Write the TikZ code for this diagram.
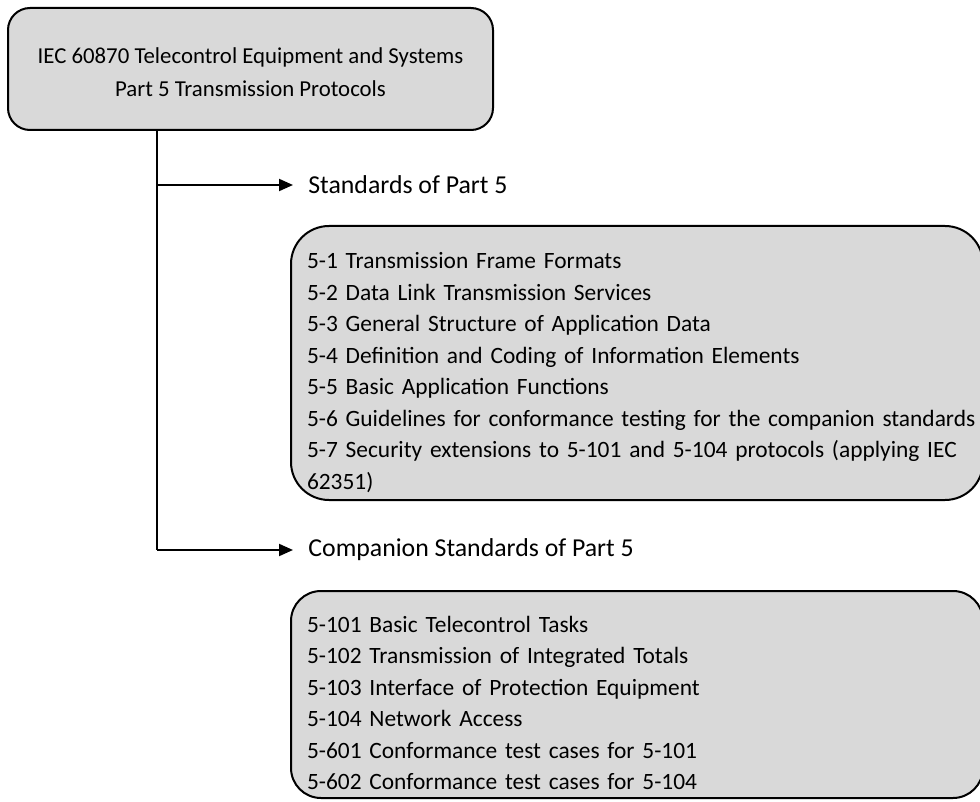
\documentclass[tikz,border=0pt]{standalone}
\usepackage{fontspec}
\setmainfont{Carlito}
\usetikzlibrary{positioning,arrows.meta}
\definecolor{boxgray}{RGB}{217,217,217}

\begin{document}
\begin{tikzpicture}[x=0.5pt,y=-0.5pt,
  headbox/.style={draw,fill=boxgray,line width=1pt,rounded corners=11pt,align=center,
    minimum width=242.5pt,minimum height=61pt,font=\fontsize{11.4}{16.5}\selectfont},
  listbox/.style={draw,fill=boxgray,line width=1pt,align=left,text width=330pt,
    inner xsep=8pt,font=\fontsize{11.7}{15.75}\selectfont},
  branch/.style={anchor=west,inner sep=0pt,font=\fontsize{12.9}{15}\selectfont},
  link/.style={line width=1pt},
  flow/.style={line width=1pt,-{Triangle[length=7pt,width=6pt]},shorten >=7.5pt}]
\useasboundingbox (0,0) rectangle (980,802);
% top box
\node[headbox] (iec) at (250.5,69) {\rule{0pt}{11pt}IEC 60870 Telecontrol Equipment and Systems\\Part 5 Transmission Protocols};
% branch labels
\node[branch] (std) at (308,185) {Standards of Part 5};
\node[branch] (comp) at (308,550) {Companion Standards of Part 5};
% lists
\node[listbox,rounded corners=19pt,minimum height=137pt] (parts) at (637,363) {%
\rule{0pt}{17.5pt}5-1 Transmission Frame Formats\\
5-2 Data Link Transmission Services\\
5-3 General Structure of Application Data\\
5-4 Definition and Coding of Information Elements\\
5-5 Basic Application Functions\\
\mbox{5-6 Guidelines for conformance testing for the companion standards}\\
5-7 Security extensions to 5-101 and 5-104 protocols (applying IEC\\
62351)};
\node[listbox,rounded corners=15pt,minimum height=103.5pt] (companion) at (637,694.5) {%
\rule{0pt}{16.5pt}5-101 Basic Telecontrol Tasks\\
5-102 Transmission of Integrated Totals\\
5-103 Interface of Protection Equipment\\
5-104 Network Access\\
5-601 Conformance test cases for 5-101\\
5-602 Conformance test cases for 5-104};
% tree
\coordinate (fork) at (157,185);
\coordinate (elbow) at (157,550);
\draw[link] (iec.south -| elbow) -- (elbow);
\draw[flow] (fork) -- (std.west);
\draw[flow] (elbow) -- (comp.west);
\end{tikzpicture}
\end{document}
